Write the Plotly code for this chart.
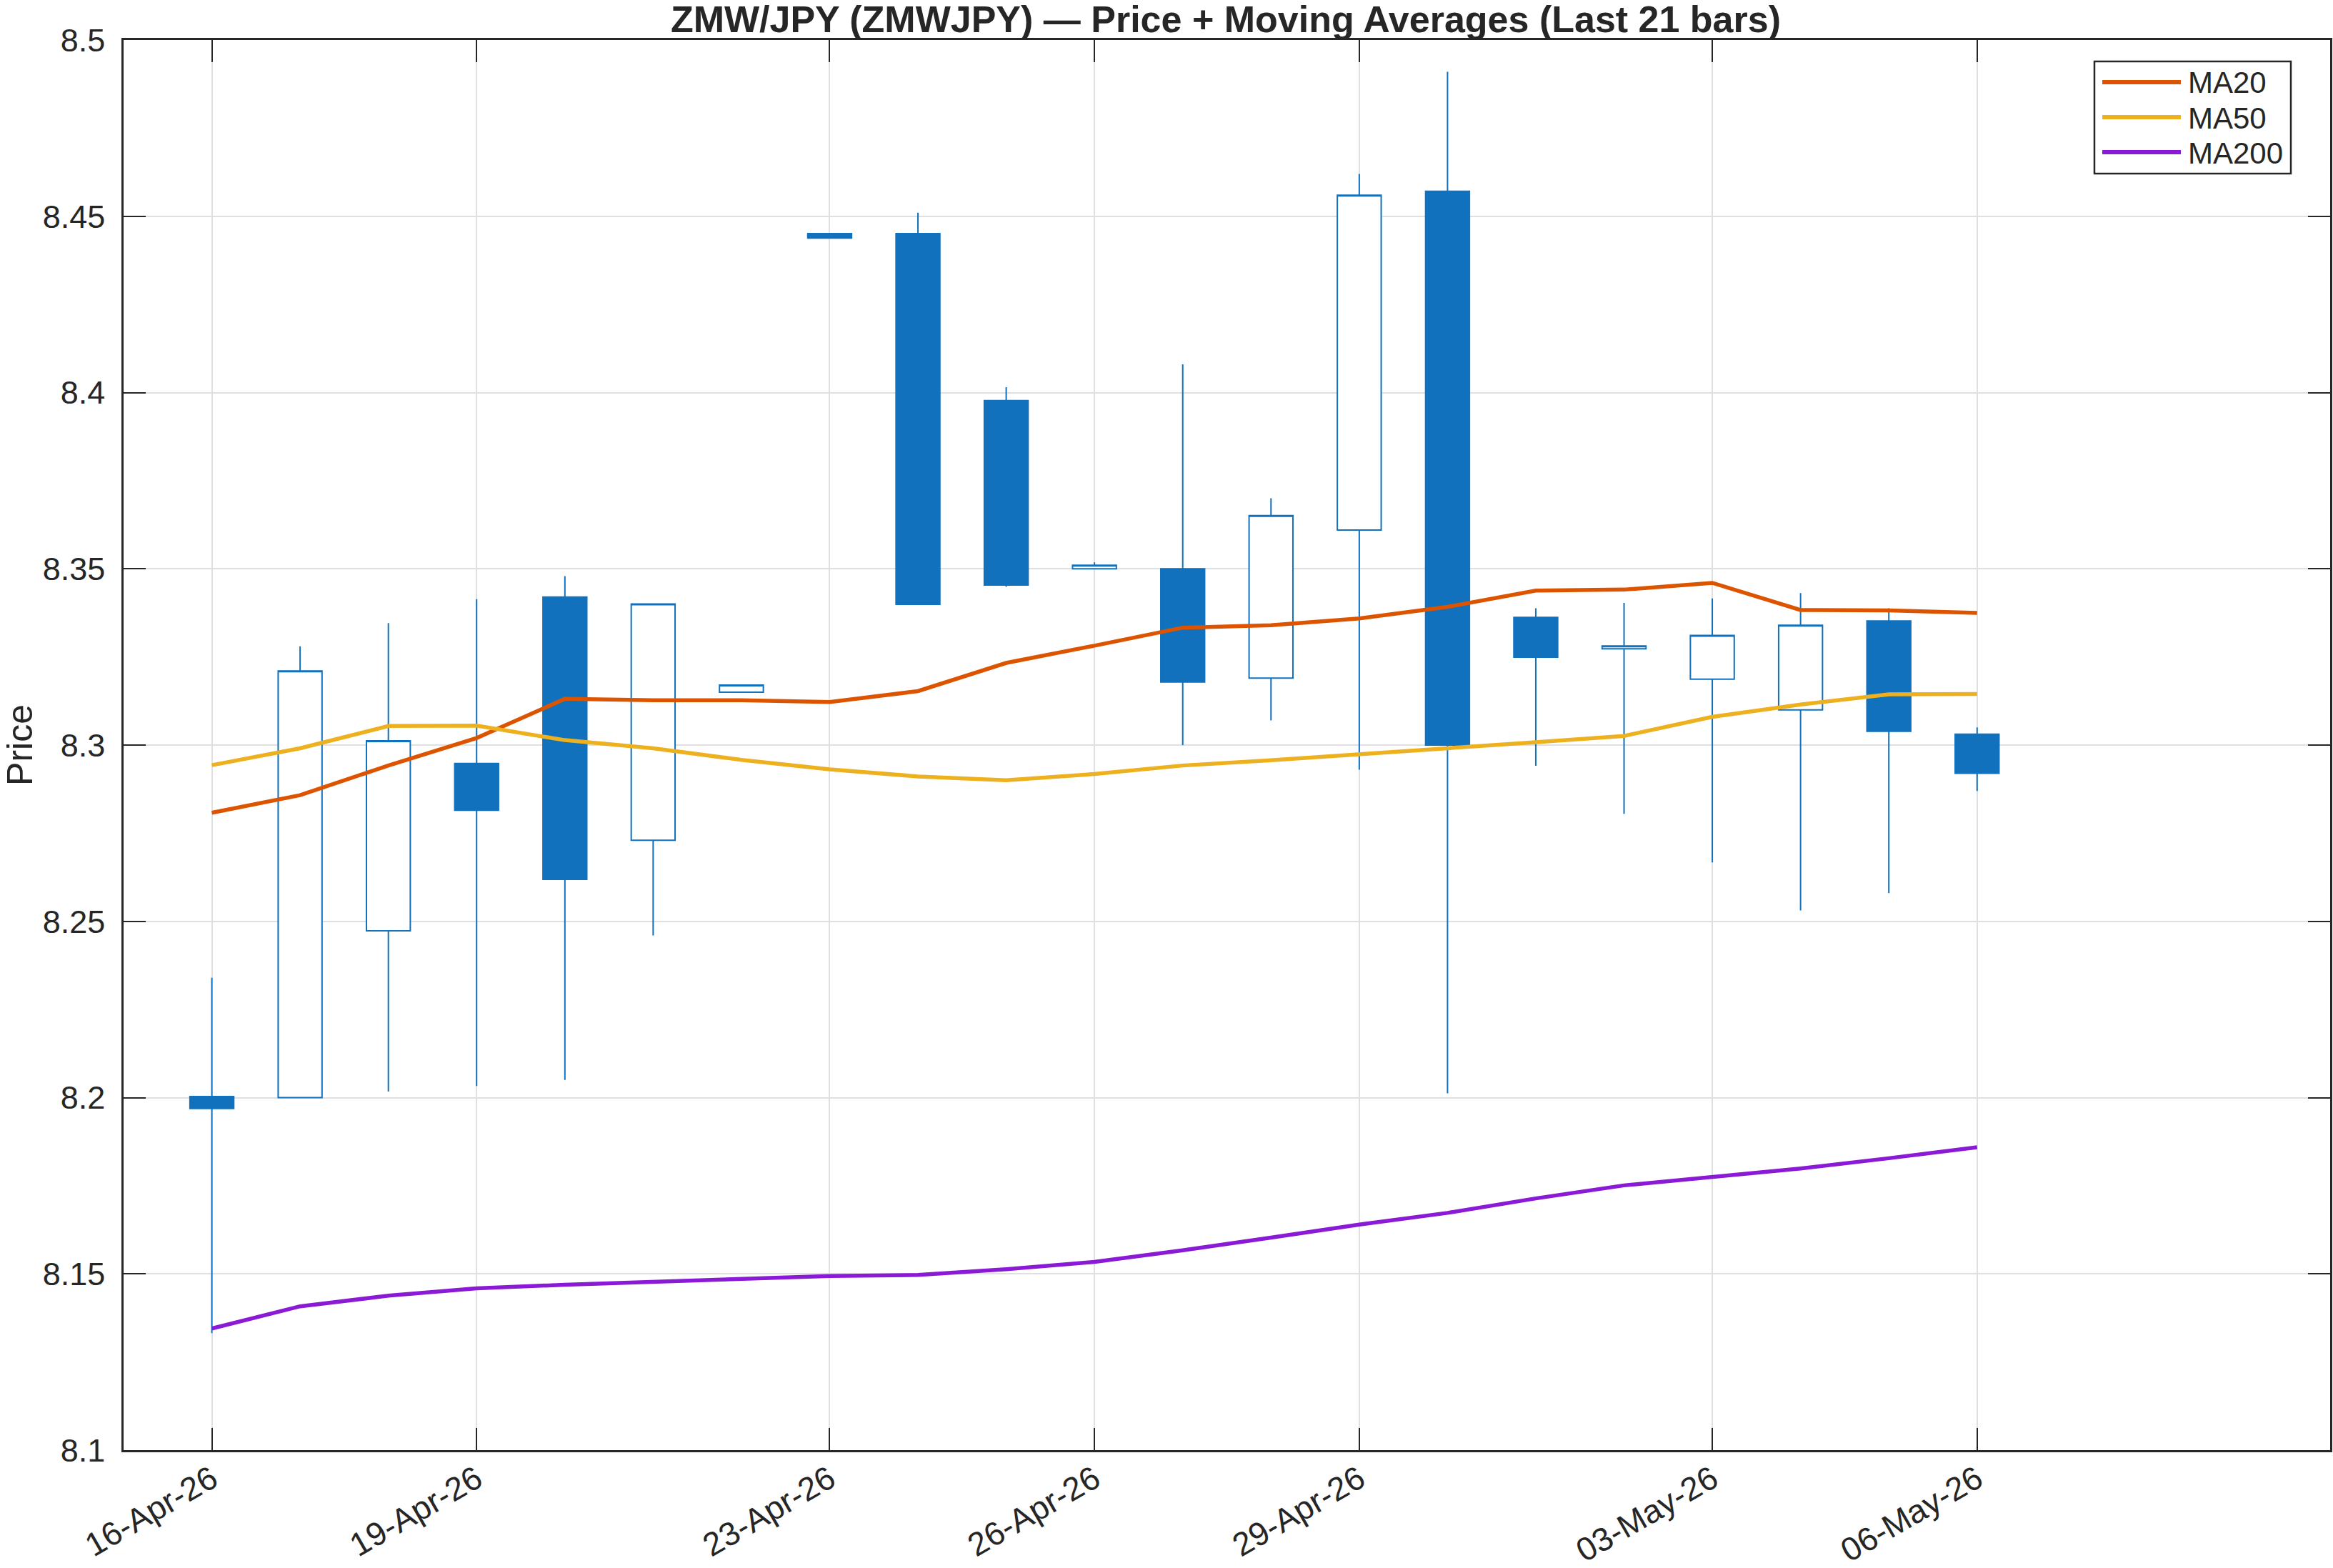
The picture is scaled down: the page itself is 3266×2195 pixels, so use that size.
import plotly.graph_objects as go

# ---- data ----
dates = ["2026-04-16", "2026-04-17", "2026-04-18", "2026-04-19", "2026-04-20",
         "2026-04-21", "2026-04-22", "2026-04-23", "2026-04-24", "2026-04-25",
         "2026-04-26", "2026-04-27", "2026-04-28", "2026-04-29", "2026-04-30",
         "2026-05-01", "2026-05-02", "2026-05-03", "2026-05-04", "2026-05-05",
         "2026-05-06"]
open_ = [8.2003, 8.2000, 8.2473, 8.2948, 8.3420, 8.2730, 8.3150, 8.4451, 8.4451, 8.3977,
         8.3500, 8.3500, 8.3190, 8.3610, 8.4571, 8.3362, 8.3273, 8.3187, 8.3100, 8.3352,
         8.3031]
high = [8.2340, 8.3280, 8.3346, 8.3414, 8.3479, 8.3400, 8.3170, 8.4451, 8.4510, 8.4015,
        8.3518, 8.4080, 8.3700, 8.4620, 8.4910, 8.3388, 8.3403, 8.3416, 8.3431, 8.3388,
        8.3050]
low = [8.1332, 8.2000, 8.2017, 8.2033, 8.2050, 8.2460, 8.3150, 8.4438, 8.3399, 8.3449,
       8.3500, 8.3000, 8.3070, 8.2930, 8.2012, 8.2941, 8.2805, 8.2667, 8.2531, 8.2580,
       8.2870]
close = [8.1969, 8.3210, 8.3012, 8.2815, 8.2619, 8.3400, 8.3170, 8.4438, 8.3399, 8.3454,
         8.3510, 8.3179, 8.3651, 8.4560, 8.3000, 8.3249, 8.3281, 8.3311, 8.3340, 8.3039,
         8.2920]
ma20 = [8.2808, 8.2858, 8.2942, 8.3020, 8.3131, 8.3127, 8.3127, 8.3122, 8.3153, 8.3233,
        8.3282, 8.3333, 8.3340, 8.3359, 8.3392, 8.3438, 8.3441, 8.3460, 8.3383, 8.3382,
        8.3375]
ma50 = [8.2943, 8.2991, 8.3054, 8.3055, 8.3014, 8.2991, 8.2958, 8.2931, 8.2911, 8.2900,
        8.2918, 8.2942, 8.2957, 8.2973, 8.2991, 8.3008, 8.3026, 8.3080, 8.3115, 8.3144,
        8.3145]
ma200 = [8.1345, 8.1408, 8.1438, 8.1459, 8.1469, 8.1478, 8.1487, 8.1494, 8.1497, 8.1513,
         8.1534, 8.1567, 8.1603, 8.1640, 8.1673, 8.1714, 8.1751, 8.1774, 8.1799, 8.1828,
         8.1859]

tick_dates = ["2026-04-16", "2026-04-19", "2026-04-23", "2026-04-26", "2026-04-29",
              "2026-05-03", "2026-05-06"]
tick_labels = ["16-Apr-26", "19-Apr-26", "23-Apr-26", "26-Apr-26", "29-Apr-26",
               "03-May-26", "06-May-26"]
y_ticks = [8.1, 8.15, 8.2, 8.25, 8.3, 8.35, 8.4, 8.45, 8.5]
y_labels = ["8.1", "8.15", "8.2", "8.25", "8.3", "8.35", "8.4", "8.45", "8.5"]

series_names = ["MA20", "MA50", "MA200"]
series_values = [ma20, ma50, ma200]
title_text = "ZMW/JPY (ZMWJPY) \u2014 Price + Moving Averages (Last 21 bars)"

# ---- styles ----
BLUE = "#1171BD"
AX = "#262626"
FONT = "Liberation Sans, Arial, Helvetica, sans-serif"
series_colors = ["#DD5400", "#EDB120", "#8A1AD6"]

W, H = 3266, 2195
ML, MR, MT, MB = 173, 4, 56, 165
PW, PH = W - ML - MR, H - MT - MB


def px(xpix):
    return (xpix - ML) / PW


def py(ypix):
    return 1 - (ypix - MT) / PH


fig = go.Figure()
fig.add_trace(go.Candlestick(
    x=dates, open=open_, high=high, low=low, close=close,
    increasing=dict(line=dict(color=BLUE, width=2), fillcolor="white"),
    decreasing=dict(line=dict(color=BLUE, width=2), fillcolor=BLUE),
    whiskerwidth=0, showlegend=False, name="Price"))
for nm, vals, col in zip(series_names, series_values, series_colors):
    fig.add_trace(go.Scatter(x=dates, y=vals, mode="lines", name=nm,
                             line=dict(color=col, width=5.5), showlegend=False))

# legend box drawn as layout shapes + text annotations
shapes = [dict(type="rect", xref="paper", yref="paper",
               x0=px(2932), x1=px(3207), y0=py(243), y1=py(86),
               line=dict(color=AX, width=2.5), fillcolor="white", layer="above")]
annotations = []
row_y = [115, 164, 213]
for nm, col, ry in zip(series_names, series_colors, row_y):
    shapes.append(dict(type="line", xref="paper", yref="paper",
                       x0=px(2943), x1=px(3053), y0=py(ry), y1=py(ry),
                       line=dict(color=col, width=6), layer="above"))
    annotations.append(dict(text=nm, xref="paper", yref="paper", x=px(3061), y=py(ry + 1),
                            xanchor="left", yanchor="middle", showarrow=False,
                            font=dict(size=42, color=AX, family=FONT)))

fig.update_layout(
    width=W, height=H,
    margin=dict(l=ML, r=MR, t=MT, b=MB, autoexpand=False),
    paper_bgcolor="white", plot_bgcolor="white",
    font=dict(family=FONT, color=AX),
    boxgap=0.29, boxgroupgap=0.3,
    title=dict(text="<b>" + title_text + "</b>", x=0.5254, xanchor="center",
               y=1 - 27 / H, yanchor="middle", yref="container",
               font=dict(size=52, color=AX, family=FONT), automargin=False),
    showlegend=False,
    shapes=shapes, annotations=annotations,
    xaxis=dict(type="date", range=["2026-04-15", "2026-05-10"],
               rangeslider=dict(visible=False), automargin=False,
               tickvals=tick_dates, ticktext=tick_labels, tickangle=-30,
               tickfont=dict(size=46, color=AX, family=FONT),
               ticks="inside", ticklen=31, tickwidth=2, tickcolor=AX,
               showline=True, linecolor=AX, linewidth=2.5, mirror="ticks",
               showgrid=True, gridcolor="#E0E0E0", gridwidth=1.5, zeroline=False,
               ticklabelstandoff=-7),
    yaxis=dict(range=[8.1, 8.5], tickvals=y_ticks, ticktext=y_labels, automargin=False,
               tickfont=dict(size=45, color=AX, family=FONT),
               ticks="inside", ticklen=31, tickwidth=2, tickcolor=AX,
               showline=True, linecolor=AX, linewidth=2.5, mirror="ticks",
               showgrid=True, gridcolor="#E0E0E0", gridwidth=1.5, zeroline=False,
               ticklabelstandoff=14,
               title=dict(text="Price", font=dict(size=50, color=AX, family=FONT),
                          standoff=20)),
)

fig.write_html("out.html")
